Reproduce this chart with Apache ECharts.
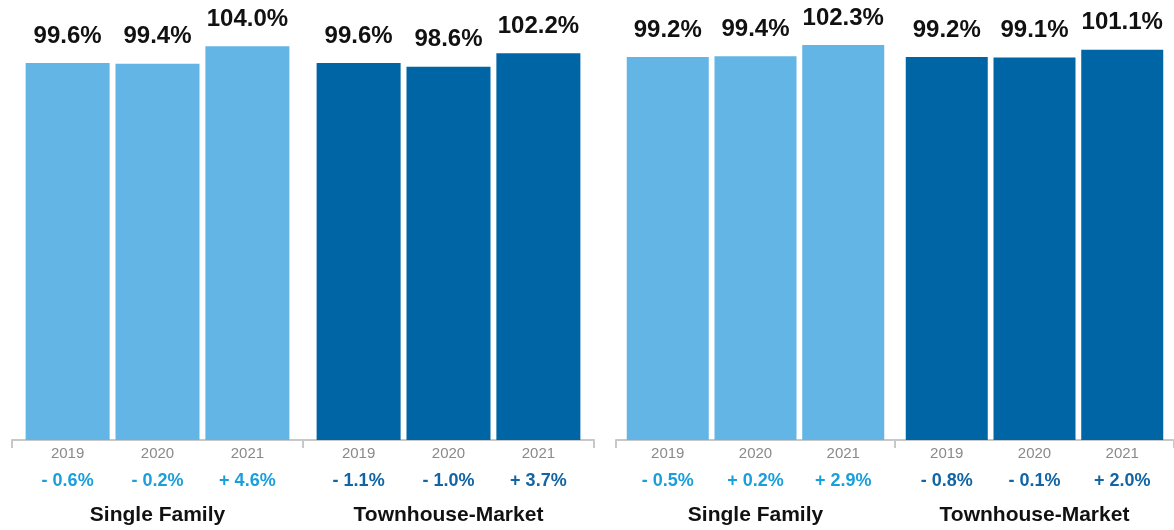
<!DOCTYPE html>
<html>
<head>
<meta charset="utf-8">
<script src="https://cdn.jsdelivr.net/npm/echarts@6/dist/echarts.min.js"></script>
<style>
  html, body { margin: 0; padding: 0; background: #fff; }
  #chart { width: 1174px; height: 530px; }
</style>
</head>
<body>
<div id="chart"></div>
<script>
const groups = ['Single Family', 'Townhouse-Market']
const years = ['2019', '2020', '2021']

// panel 1 (left) and panel 2 (right): [Single Family, Townhouse-Market] per year
const leftValues = [[99.6, 99.6], [99.4, 98.6], [104.0, 102.2]]
const leftChanges = [['- 0.6%', '- 1.1%'], ['- 0.2%', '- 1.0%'], ['+ 4.6%', '+ 3.7%']]
const rightValues = [[99.2, 99.2], [99.4, 99.1], [102.3, 101.1]]
const rightChanges = [['- 0.5%', '- 0.8%'], ['+ 0.2%', '- 0.1%'], ['+ 2.9%', '+ 2.0%']]

const BarColors = ['#62b5e5', '#0065a4']
const ChangeColors = ['#1a9fdc', '#1265a5']
const FONT = '"Liberation Sans", Arial, Helvetica, sans-serif'

function buildSeries(values, changes, gridIndex, barWidth, barGap) {
  let series = []
  years.forEach((year, i) => {
    // zero height bar at the base, only for the year / change labels under the axis
    series.push({
      type: 'bar',
      xAxisIndex: gridIndex,
      yAxisIndex: gridIndex,
      stack: 'g' + gridIndex + '-' + i,
      barWidth: barWidth,
      barGap: barGap,
      silent: true,
      itemStyle: { color: 'transparent' },
      label: {
        show: true,
        position: 'bottom',
        distance: 1,
        formatter: p => '{y|' + year + '}\n{c' + p.dataIndex + '|' + changes[i][p.dataIndex] + '}',
        rich: {
          y: { fontFamily: FONT, fontSize: 15, color: '#8a8a8a', lineHeight: 26 },
          c0: { fontFamily: FONT, fontSize: 18, fontWeight: 'bold', color: ChangeColors[0], lineHeight: 28 },
          c1: { fontFamily: FONT, fontSize: 18, fontWeight: 'bold', color: ChangeColors[1], lineHeight: 28 }
        }
      },
      data: [0, 0]
    })
    series.push({
      type: 'bar',
      xAxisIndex: gridIndex,
      yAxisIndex: gridIndex,
      stack: 'g' + gridIndex + '-' + i,
      barWidth: barWidth,
      barGap: barGap,
      itemStyle: {
        color: p => BarColors[p.dataIndex]
      },
      label: {
        show: true,
        position: 'top',
        distance: 15,
        fontFamily: FONT,
        fontSize: 24,
        fontWeight: 'bold',
        color: '#111',
        formatter: p => p.value.toFixed(1) + '%'
      },
      data: values[i]
    })
  })
  return series
}

function xAxisFor(gridIndex) {
  return {
    type: 'category',
    gridIndex: gridIndex,
    data: groups,
    axisLine: { lineStyle: { color: '#c8c8c8', width: 2 } },
    axisTick: { show: true, length: 8, lineStyle: { color: '#c8c8c8', width: 2 } },
    axisLabel: {
      margin: 65,
      fontFamily: FONT,
      fontSize: 21,
      fontWeight: 'bold',
      color: '#111'
    }
  }
}

function yAxisFor(gridIndex) {
  return {
    type: 'value',
    gridIndex: gridIndex,
    min: 0,
    max: 110,
    show: false,
    splitLine: { show: false }
  }
}

const chart = echarts.init(document.getElementById('chart'))
chart.setOption({
  animation: false,
  grid: [
    { left: 12, width: 582, top: 23.6, height: 416.4 },
    { left: 616, width: 564, top: 15.4, height: 424.6 }
  ],
  xAxis: [xAxisFor(0), xAxisFor(1)],
  yAxis: [yAxisFor(0), yAxisFor(1)],
  series: [
    ...buildSeries(leftValues, leftChanges, 0, 84, '7%'),
    ...buildSeries(rightValues, rightChanges, 1, 82, '7%')
  ]
})
</script>
</body>
</html>
